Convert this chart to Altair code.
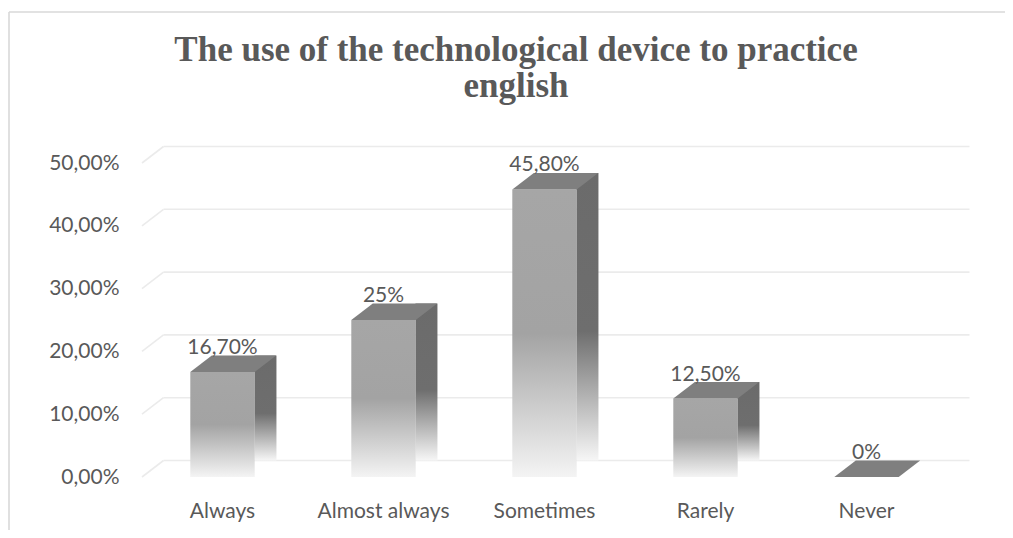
import altair as alt
import pandas as pd

categories = ["Always", "Almost always", "Sometimes", "Rarely", "Never"]
values = [16.7, 25.0, 45.8, 12.5, 0.0]
labels = ["16,70%", "25%", "45,80%", "12,50%", "0%"]
ticks = [0, 10, 20, 30, 40, 50]
title_lines = ["The use of the technological device to practice", "english"]

df = pd.DataFrame({"category": categories, "value": values, "label": labels})
df_pos = df[df["value"] > 0]
grid_df = pd.DataFrame({"tick": ticks})

W, H = 805, 314
DX, DY = 21.5, 16.5
BW = W / 5 * 0.4  # bar width

FONT = "Lato"
TXT = "#595959"

xscale = alt.Scale(paddingInner=0.6, paddingOuter=0.3)
xaxis = alt.Axis(labelAngle=0, ticks=False, domain=False, grid=False,
                 labelFont=FONT, labelFontSize=21, labelColor=TXT, labelPadding=23)
yscale = alt.Scale(domain=[0, 50], nice=False)
yaxis = alt.Axis(values=ticks, ticks=False, domain=False, grid=False,
                 labelFont=FONT, labelFontSize=21, labelColor=TXT, labelPadding=23,
                 labelExpr="replace(format(datum.value, '.2f'), '.', ',') + '%'")


def X():
    return alt.X("category:N", sort=categories, title=None, scale=xscale, axis=xaxis)


def Y(field="value:Q"):
    return alt.Y(field, title=None, scale=yscale, axis=yaxis)


grid_back = alt.Chart(grid_df).mark_rule(color="#ebebeb", strokeWidth=1.6, yOffset=-DY).encode(
    y=Y("tick:Q"), x=alt.value(DX), x2=alt.value(W + DX + 1))
grid_diag = alt.Chart(grid_df).mark_rule(color="#ebebeb", strokeWidth=1.6, y2Offset=-DY).encode(
    y=Y("tick:Q"), y2="tick:Q", x=alt.value(0), x2=alt.value(DX))

front_grad = alt.Gradient(gradient="linear", x1=0, x2=0, y1=0, y2=1,
                          stops=[alt.GradientStop(color="#a6a6a6", offset=0),
                                 alt.GradientStop(color="#a3a3a3", offset=0.5),
                                 alt.GradientStop(color="#f4f4f4", offset=1)])
side_grad = alt.Gradient(gradient="linear", x1=0, x2=0, y1=0, y2=1,
                         stops=[alt.GradientStop(color="#6b6b6b", offset=0),
                                alt.GradientStop(color="#6e6e6e", offset=0.55),
                                alt.GradientStop(color="#f6f6f6", offset=1)])

side = alt.Chart(df_pos).mark_bar(color=side_grad, width=DX + 0.5, xOffset=BW / 2 + DX / 2,
                                  yOffset=-DY, y2Offset=-DY).encode(
    x=X(), y=Y(), y2=alt.datum(0))

front = alt.Chart(df_pos).mark_bar(color=front_grad).encode(x=X(), y=Y(), y2=alt.datum(0))

k = 40.0
hx = BW / 2 / k
path = "M {a} 0 L {b} 0 L {c} {d} L {e} {d} Z".format(
    a=-hx, b=hx, c=hx + DX / k, d=-DY / k, e=-hx + DX / k)
top = alt.Chart(df).mark_point(shape=path, size=(2 * k) ** 2, filled=True, opacity=1,
                               color="#7f7f7f", strokeWidth=0).encode(x=X(), y=Y())

text = alt.Chart(df).mark_text(font=FONT, fontSize=21, color=TXT, baseline="alphabetic", dy=-18).encode(
    x=X(), y=Y(), text="label:N")

one = alt.Data(values=[{"a": 1}])
frame_top = alt.Chart(one).mark_rule(color="#d9d9d9", strokeWidth=1.6).encode(
    x=alt.value(-133), x2=alt.value(W + 58), y=alt.value(-151))
frame_left = alt.Chart(one).mark_rule(color="#d9d9d9", strokeWidth=1.6).encode(
    x=alt.value(-133), y=alt.value(-151), y2=alt.value(H + 53))

title = alt.Chart(one).mark_text(text=title_lines, font="Liberation Serif", fontSize=35,
                                 fontWeight="bold", color=TXT, lineHeight=36,
                                 baseline="alphabetic", align="center").encode(
    x=alt.value(374), y=alt.value(-102))

chart = alt.layer(grid_back, grid_diag, side, front, top, text, frame_top, frame_left, title).properties(
    width=W, height=H,
    autosize=alt.AutoSizeParams(type="none"),
    padding={"left": 134, "top": 155, "right": 58, "bottom": 53},
).configure(background="white", view=alt.ViewConfig(stroke=None))

chart.save("out.html", embed_options={"renderer": "svg", "actions": False})
